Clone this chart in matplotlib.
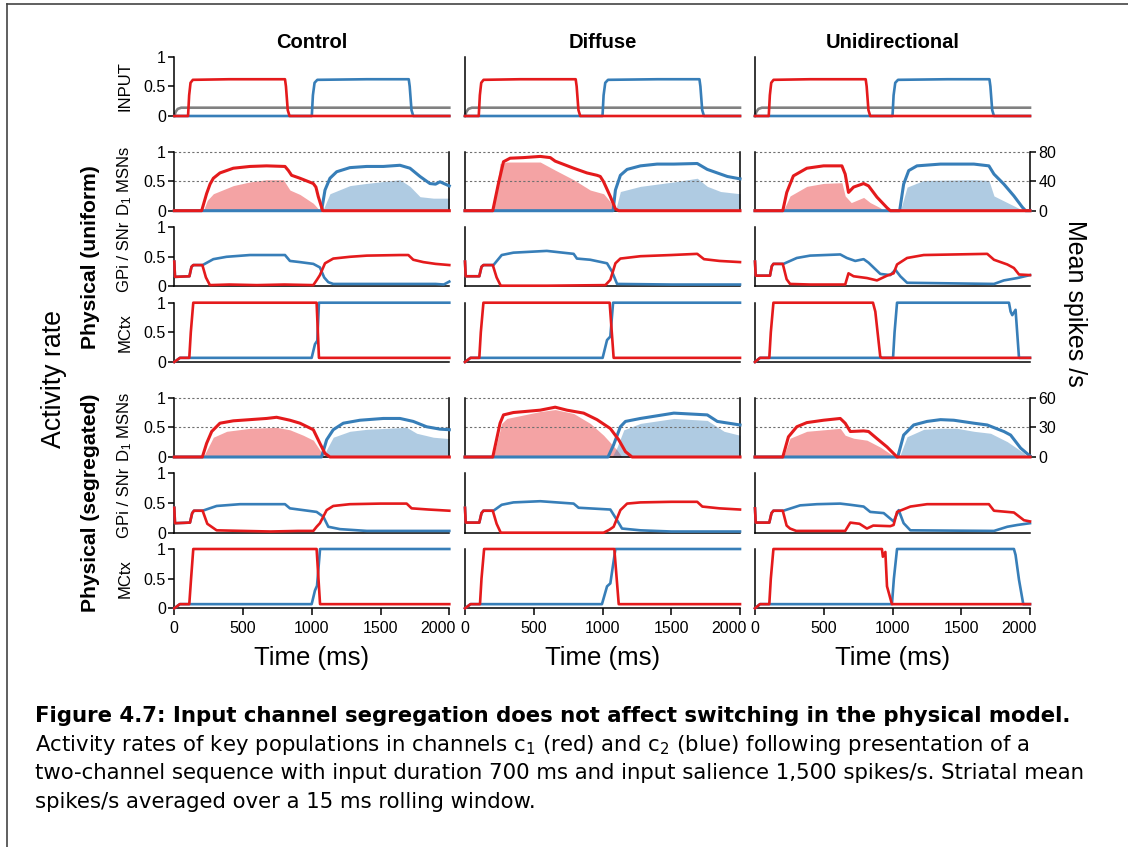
#!/usr/bin/env python3
"""Activity rates for the physical model: control / diffuse / unidirectional input."""

import numpy as np
import matplotlib
matplotlib.use("Agg")
import matplotlib.pyplot as plt
from matplotlib.lines import Line2D
from matplotlib.transforms import ScaledTranslation

# ---------------------------------------------------------------- data
# every series is a list of (time ms, value).
# line values are activity rates (0-1), fills are striatal mean spikes/s.

columns = ["Control", "Diffuse", "Unidirectional"]
row_labels = ["INPUT", "D$_1$ MSNs", "GPi / SNr", "MCtx",
              "D$_1$ MSNs", "GPi / SNr", "MCtx"]
time_ticks = [0, 500, 1000, 1500, 2000]
rate_ticks = [0, 0.5, 1]
rate_ticklabels = ["0", "0.5", "1"]
spikes_max_uniform = 80
spikes_max_segregated = 60

# input (same in all three columns)
in_gray = [(0, 0), (10, 0.07), (25, 0.12), (50, 0.14), (2000, 0.14)]
in_red = [(0, 0), (100, 0), (108, 0.35), (118, 0.56), (135, 0.61), (400, 0.62),
          (805, 0.62), (812, 0.5), (825, 0.1), (838, 0), (2000, 0)]
in_blue = [(0, 0), (1000, 0), (1008, 0.35), (1020, 0.56), (1040, 0.61), (1400, 0.62),
           (1705, 0.62), (1712, 0.5), (1725, 0.1), (1738, 0), (2000, 0)]

# ---- Control
ctrl_d1u_red = [(0, 0), (199, 0), (235, 0.29), (260, 0.45), (284, 0.55), (332, 0.64),
                (429, 0.72), (550, 0.75), (671, 0.76), (805, 0.75), (830, 0.68),
                (853, 0.60), (914, 0.55), (1011, 0.46), (1030, 0.40), (1047, 0.24),
                (1079, 0), (2000, 0)]
ctrl_d1u_blue = [(0, 0), (1071, 0), (1096, 0.35), (1132, 0.55), (1181, 0.66),
                 (1277, 0.73), (1399, 0.75), (1520, 0.75), (1641, 0.77), (1714, 0.72),
                 (1787, 0.58), (1859, 0.46), (1900, 0.45), (1932, 0.49), (2000, 0.42)]
ctrl_d1u_red_fill = [(211, 0), (240, 14), (284, 23), (429, 34), (550, 39), (671, 42),
                     (793, 42), (841, 28), (914, 22), (1011, 10), (1059, 0)]
ctrl_d1u_blue_fill = [(1079, 0), (1132, 23), (1277, 34), (1399, 37), (1641, 42),
                      (1714, 33), (1787, 19), (1884, 17), (2000, 17)]
ctrl_gpu_red = [(0, 0.42), (5, 0.16), (110, 0.17), (125, 0.33), (138, 0.36), (204, 0.36),
                (230, 0.15), (259, 0.02), (400, 0.03), (600, 0.02), (800, 0.03),
                (1011, 0.02), (1040, 0.12), (1059, 0.19), (1096, 0.39), (1156, 0.47),
                (1277, 0.50), (1400, 0.52), (1641, 0.53), (1702, 0.53), (1738, 0.45),
                (1811, 0.41), (1900, 0.38), (2000, 0.36)]
ctrl_gpu_blue = [(0, 0.42), (5, 0.16), (110, 0.17), (125, 0.33), (138, 0.36), (206, 0.36),
                 (284, 0.46), (380, 0.50), (550, 0.53), (805, 0.53), (841, 0.43),
                 (914, 0.41), (1011, 0.38), (1059, 0.32), (1090, 0.15), (1120, 0.07),
                 (1156, 0.04), (1500, 0.04), (1900, 0.04), (1960, 0.03), (2000, 0.08)]
ctrl_mcu_red = [(0, 0), (41, 0.07), (109, 0.07), (120, 0.5), (138, 1), (1035, 1),
                (1052, 0.07), (2000, 0.07)]
ctrl_mcu_blue = [(0, 0), (41, 0.07), (999, 0.07), (1023, 0.3), (1040, 0.36), (1052, 1),
                 (2000, 1)]
ctrl_d1s_red = [(0, 0), (204, 0), (235, 0.23), (272, 0.43), (332, 0.57), (429, 0.61),
                (550, 0.63), (671, 0.65), (744, 0.67), (841, 0.62), (914, 0.57),
                (1011, 0.46), (1059, 0.23), (1096, 0.06), (1132, 0), (2000, 0)]
ctrl_d1s_blue = [(0, 0), (1071, 0), (1108, 0.29), (1156, 0.46), (1229, 0.57),
                 (1350, 0.62), (1520, 0.65), (1641, 0.65), (1738, 0.60), (1835, 0.51),
                 (1932, 0.47), (2000, 0.46)]
ctrl_d1s_red_fill = [(211, 0), (284, 20), (381, 26), (550, 29), (744, 30), (841, 27.5),
                     (938, 22), (1011, 17), (1059, 7), (1096, 0)]
ctrl_d1s_blue_fill = [(1079, 0), (1156, 20), (1277, 26), (1399, 28), (1690, 30),
                      (1763, 24), (1884, 20), (2000, 18.6)]
ctrl_gps_red = [(0, 0.42), (5, 0.16), (114, 0.17), (130, 0.33), (143, 0.37), (206, 0.37),
                (240, 0.15), (308, 0.04), (500, 0.03), (700, 0.02), (900, 0.03),
                (1011, 0.03), (1035, 0.10), (1059, 0.16), (1108, 0.38), (1156, 0.45),
                (1277, 0.48), (1500, 0.49), (1690, 0.49), (1726, 0.41), (1850, 0.39),
                (2000, 0.37)]
ctrl_gps_blue = [(0, 0.42), (5, 0.16), (114, 0.17), (130, 0.33), (143, 0.37), (206, 0.37),
                 (308, 0.45), (478, 0.48), (805, 0.48), (841, 0.41), (1035, 0.35),
                 (1084, 0.27), (1120, 0.10), (1205, 0.06), (1400, 0.03), (2000, 0.03)]
ctrl_mcs_red = [(0, 0), (40, 0.07), (109, 0.07), (122, 0.5), (138, 1), (1035, 1),
                (1060, 0.07), (2000, 0.07)]
ctrl_mcs_blue = [(0, 0), (40, 0.07), (999, 0.07), (1023, 0.3), (1038, 0.38), (1060, 1),
                 (2000, 1)]

# ---- Diffuse
diff_d1u_red = [(0, 0), (202, 0), (243, 0.46), (280, 0.83), (328, 0.89), (425, 0.90),
                (547, 0.92), (620, 0.90), (656, 0.84), (790, 0.72), (887, 0.64),
                (960, 0.60), (984, 0.58), (1008, 0.49), (1057, 0.24), (1094, 0.03),
                (1118, 0), (2000, 0)]
diff_d1u_blue = [(0, 0), (1077, 0), (1094, 0.35), (1130, 0.60), (1179, 0.70),
                 (1276, 0.76), (1397, 0.79), (1519, 0.79), (1689, 0.80), (1762, 0.70),
                 (1835, 0.64), (1908, 0.58), (2000, 0.54)]
diff_d1u_red_fill = [(206, 0), (255, 64), (304, 66), (547, 66), (656, 55), (790, 42),
                     (911, 28), (1008, 23), (1057, 12), (1094, 0)]
diff_d1u_blue_fill = [(1094, 0), (1130, 26), (1276, 33), (1519, 39), (1689, 44),
                      (1762, 33), (1859, 26), (2000, 23)]
diff_gpu_red = [(0, 0.42), (5, 0.17), (104, 0.17), (120, 0.33), (134, 0.36), (202, 0.36),
                (230, 0.15), (260, 0.01), (600, 0.01), (1021, 0.02), (1057, 0.11),
                (1094, 0.39), (1130, 0.47), (1276, 0.51), (1500, 0.53), (1689, 0.55),
                (1738, 0.46), (1850, 0.43), (2000, 0.41)]
diff_gpu_blue = [(0, 0.42), (5, 0.17), (104, 0.17), (120, 0.33), (134, 0.36), (207, 0.36),
                 (267, 0.53), (352, 0.57), (595, 0.60), (790, 0.55), (814, 0.47),
                 (911, 0.45), (1033, 0.39), (1069, 0.25), (1106, 0.04), (1500, 0.03),
                 (2000, 0.03)]
diff_mcu_red = [(0, 0), (40, 0.07), (104, 0.07), (115, 0.5), (134, 1), (1052, 1),
                (1081, 0.07), (2000, 0.07)]
diff_mcu_blue = [(0, 0), (40, 0.07), (1001, 0.07), (1033, 0.37), (1057, 0.43), (1077, 1),
                 (2000, 1)]
diff_d1s_red = [(0, 0), (202, 0), (255, 0.57), (280, 0.71), (352, 0.75), (547, 0.79),
                (656, 0.84), (741, 0.79), (863, 0.74), (960, 0.63), (1057, 0.48),
                (1118, 0.29), (1167, 0.09), (1215, 0), (2000, 0)]
diff_d1s_blue = [(0, 0), (1040, 0), (1080, 0.2), (1130, 0.51), (1167, 0.60), (1276, 0.65),
                 (1519, 0.74), (1762, 0.71), (1835, 0.60), (2000, 0.54)]
diff_d1s_red_fill = [(206, 0), (267, 34), (304, 39), (547, 46), (656, 48), (790, 44),
                     (911, 34), (1008, 22), (1106, 7), (1142, 0)]
diff_d1s_blue_fill = [(1070, 0), (1106, 10), (1155, 27.5), (1276, 34), (1519, 39),
                      (1762, 37), (1884, 26), (2000, 22)]
diff_gps_red = [(0, 0.42), (5, 0.17), (104, 0.17), (120, 0.33), (134, 0.37), (202, 0.37),
                (230, 0.15), (260, 0), (1008, 0), (1050, 0.05), (1081, 0.10),
                (1130, 0.38), (1179, 0.49), (1276, 0.51), (1500, 0.52), (1689, 0.52),
                (1726, 0.44), (1850, 0.41), (2000, 0.39)]
diff_gps_blue = [(0, 0.42), (5, 0.17), (104, 0.17), (120, 0.33), (134, 0.37), (207, 0.37),
                 (267, 0.47), (352, 0.51), (547, 0.53), (790, 0.49), (826, 0.42),
                 (1057, 0.39), (1106, 0.21), (1142, 0.07), (1276, 0.04), (1500, 0.02),
                 (2000, 0.02)]
diff_mcs_red = [(0, 0), (40, 0.07), (109, 0.07), (120, 0.5), (139, 1), (1086, 1),
                (1118, 0.07), (2000, 0.07)]
diff_mcs_blue = [(0, 0), (40, 0.07), (996, 0.07), (1033, 0.37), (1057, 0.42), (1094, 1),
                 (2000, 1)]

# ---- Unidirectional
uni_d1u_red = [(0, 0), (202, 0), (231, 0.31), (279, 0.59), (377, 0.72), (498, 0.76),
               (632, 0.76), (656, 0.62), (680, 0.31), (717, 0.40), (790, 0.46),
               (826, 0.42), (887, 0.23), (960, 0.05), (984, 0), (2000, 0)]
uni_d1u_blue = [(0, 0), (1052, 0), (1081, 0.45), (1118, 0.68), (1178, 0.76), (1349, 0.79),
                (1592, 0.79), (1701, 0.76), (1738, 0.62), (1810, 0.45), (1883, 0.25),
                (1944, 0.06), (1968, 0), (2000, 0)]
uni_d1u_red_fill = [(206, 0), (255, 20), (377, 33), (498, 37), (632, 38), (656, 20),
                    (700, 11), (790, 18), (838, 11), (911, 4), (935, 0)]
uni_d1u_blue_fill = [(1057, 0), (1106, 32), (1227, 41), (1592, 42), (1701, 41),
                     (1738, 20), (1835, 11), (1932, 2), (1956, 0)]
uni_gpu_red = [(0, 0.42), (5, 0.18), (109, 0.18), (122, 0.34), (134, 0.38), (202, 0.38),
               (230, 0.12), (255, 0.04), (400, 0.03), (656, 0.03), (680, 0.22),
               (717, 0.17), (814, 0.14), (887, 0.10), (960, 0.18), (1008, 0.22),
               (1033, 0.37), (1106, 0.48), (1227, 0.53), (1689, 0.55), (1738, 0.45),
               (1835, 0.37), (1883, 0.31), (1920, 0.20), (2000, 0.19)]
uni_gpu_blue = [(0, 0.42), (5, 0.18), (109, 0.18), (122, 0.34), (134, 0.38), (207, 0.38),
                (304, 0.48), (401, 0.52), (620, 0.54), (668, 0.48), (729, 0.43),
                (790, 0.46), (826, 0.40), (911, 0.21), (984, 0.19), (1021, 0.28),
                (1057, 0.17), (1106, 0.06), (1738, 0.04), (1810, 0.10), (1908, 0.14),
                (2000, 0.19)]
uni_mcu_red = [(0, 0), (36, 0.07), (104, 0.07), (115, 0.5), (134, 1), (858, 1),
               (875, 0.85), (911, 0.09), (923, 0.07), (2000, 0.07)]
uni_mcu_blue = [(0, 0), (36, 0.07), (1004, 0.07), (1015, 0.5), (1033, 1), (1847, 1),
                (1859, 0.85), (1871, 0.79), (1895, 0.88), (1920, 0.07), (2000, 0.07)]
uni_d1s_red = [(0, 0), (202, 0), (243, 0.34), (304, 0.51), (377, 0.58), (498, 0.62),
               (620, 0.65), (656, 0.57), (693, 0.43), (790, 0.44), (826, 0.43),
               (887, 0.31), (960, 0.17), (1033, 0), (2000, 0)]
uni_d1s_blue = [(0, 0), (1038, 0), (1081, 0.37), (1154, 0.54), (1251, 0.60), (1349, 0.63),
                (1446, 0.62), (1592, 0.57), (1689, 0.54), (1810, 0.43), (1859, 0.37),
                (1932, 0.15), (1993, 0.03), (2000, 0.02)]
uni_d1s_red_fill = [(206, 0), (255, 19), (377, 26), (620, 29), (656, 22), (717, 19),
                    (814, 17), (911, 10), (1008, 1), (1021, 0)]
uni_d1s_blue_fill = [(1050, 0), (1106, 20.5), (1227, 28), (1349, 29), (1470, 29),
                     (1592, 26), (1713, 24), (1835, 15.5), (1956, 4), (1980, 0)]
uni_gps_red = [(0, 0.41), (5, 0.17), (104, 0.17), (120, 0.33), (134, 0.37), (202, 0.37),
               (230, 0.12), (255, 0.07), (300, 0.03), (656, 0.03), (693, 0.17),
               (760, 0.15), (814, 0.07), (860, 0.12), (984, 0.11), (1008, 0.13),
               (1033, 0.35), (1130, 0.44), (1251, 0.48), (1701, 0.48), (1738, 0.37),
               (1883, 0.34), (1956, 0.21), (2000, 0.19)]
uni_gps_blue = [(0, 0.41), (5, 0.17), (104, 0.17), (120, 0.33), (134, 0.37), (207, 0.37),
                (328, 0.46), (450, 0.48), (620, 0.49), (693, 0.47), (790, 0.44),
                (838, 0.35), (936, 0.33), (1008, 0.19), (1045, 0.38), (1081, 0.16),
                (1130, 0.04), (1738, 0.03), (1835, 0.10), (1908, 0.13), (2000, 0.16)]
uni_mcs_red = [(0, 0), (36, 0.07), (104, 0.07), (115, 0.5), (134, 1), (923, 1),
               (930, 0.87), (948, 0.95), (960, 0.37), (996, 0.07), (2000, 0.07)]
uni_mcs_blue = [(0, 0), (36, 0.07), (996, 0.07), (1010, 0.5), (1033, 1), (1883, 1),
                (1895, 0.9), (1920, 0.48), (1951, 0.07), (2000, 0.07)]

caption_lines = [
    "Figure 4.7: Input channel segregation does not affect switching in the physical model.",
    "Activity rates of key populations in channels c$_1$ (red) and c$_2$ (blue) following presentation of a",
    "two-channel sequence with input duration 700 ms and input salience 1,500 spikes/s. Striatal mean",
    "spikes/s averaged over a 15 ms rolling window.",
]

RED = "#e41a1c"
BLUE = "#377eb8"
GRAY = "#808080"

W, H = 1128, 847
COL_LEFT = [174.3, 465.0, 755.0]       # px
COL_WIDTH = 275.0
ROW_SPAN = [(56.7, 116.0), (151.7, 210.7), (227.3, 286.3), (302.7, 362.0),
            (397.7, 457.0), (473.3, 532.7), (549.0, 608.3)]


def xy(points):
    arr = np.array(points, dtype=float)
    return arr[:, 0], arr[:, 1]


def main():
    plt.rcParams["font.family"] = ["Liberation Sans", "DejaVu Sans"]
    plt.rcParams["mathtext.default"] = "regular"

    panels = [
        [(in_gray, in_red, in_blue),
         (ctrl_d1u_red, ctrl_d1u_blue, ctrl_d1u_red_fill, ctrl_d1u_blue_fill),
         (ctrl_gpu_red, ctrl_gpu_blue), (ctrl_mcu_red, ctrl_mcu_blue),
         (ctrl_d1s_red, ctrl_d1s_blue, ctrl_d1s_red_fill, ctrl_d1s_blue_fill),
         (ctrl_gps_red, ctrl_gps_blue), (ctrl_mcs_red, ctrl_mcs_blue)],
        [(in_gray, in_red, in_blue),
         (diff_d1u_red, diff_d1u_blue, diff_d1u_red_fill, diff_d1u_blue_fill),
         (diff_gpu_red, diff_gpu_blue), (diff_mcu_red, diff_mcu_blue),
         (diff_d1s_red, diff_d1s_blue, diff_d1s_red_fill, diff_d1s_blue_fill),
         (diff_gps_red, diff_gps_blue), (diff_mcs_red, diff_mcs_blue)],
        [(in_gray, in_red, in_blue),
         (uni_d1u_red, uni_d1u_blue, uni_d1u_red_fill, uni_d1u_blue_fill),
         (uni_gpu_red, uni_gpu_blue), (uni_mcu_red, uni_mcu_blue),
         (uni_d1s_red, uni_d1s_blue, uni_d1s_red_fill, uni_d1s_blue_fill),
         (uni_gps_red, uni_gps_blue), (uni_mcs_red, uni_mcs_blue)],
    ]

    fig = plt.figure(figsize=(W / 100, H / 100), dpi=100)
    lw = 1.9
    # last time label sits a bit left of its tick, as in the original
    shift_left = ScaledTranslation(-11 / 100, 0, fig.dpi_scale_trans)

    for c in range(3):
        for r in range(7):
            top, bot = ROW_SPAN[r]
            ax = fig.add_axes([COL_LEFT[c] / W, 1 - bot / H, COL_WIDTH / W, (bot - top) / H])
            ax.set_xlim(0, 2000)
            ax.set_ylim(0, 1)
            for s in ["top", "right"]:
                ax.spines[s].set_visible(False)
            for s in ["left", "bottom"]:
                ax.spines[s].set_linewidth(1.1)

            data = panels[c][r]
            if r == 0:
                gray, red, blue = data
                ax.plot(*xy(gray), color=GRAY, lw=lw, zorder=2, clip_on=False)
                ax.plot(*xy(blue), color=BLUE, lw=lw, zorder=3, clip_on=False)
                ax.plot(*xy(red), color=RED, lw=lw, zorder=4, clip_on=False)
            elif r in (1, 4):
                red, blue, red_fill, blue_fill = data
                top_val = spikes_max_uniform if r == 1 else spikes_max_segregated
                tw = ax.twinx()
                tw.set_ylim(0, top_val)
                tw.fill_between(*xy(red_fill), color=RED, alpha=0.4, lw=0)
                tw.fill_between(*xy(blue_fill), color=BLUE, alpha=0.4, lw=0)
                for s in ["top", "left", "bottom"]:
                    tw.spines[s].set_visible(False)
                tw.spines["right"].set_linewidth(1.1)
                if c == 2:
                    tw.set_yticks([0, top_val / 2, top_val])
                    tw.set_yticklabels(["0", str(top_val // 2), str(top_val)])
                    tw.tick_params(axis="y", length=4, width=1.1, labelsize=11.5, pad=2)
                else:
                    tw.set_yticks([])
                ax.set_zorder(tw.get_zorder() + 1)
                ax.patch.set_visible(False)
                for yv in (0.5, 1.0):
                    ax.axhline(yv, color="#707070", lw=0.8, ls=(0, (2, 2)), zorder=1,
                               clip_on=False)
                ax.plot(*xy(blue), color=BLUE, lw=lw + 0.3, zorder=3, clip_on=False)
                ax.plot(*xy(red), color=RED, lw=lw + 0.3, zorder=4, clip_on=False)
            else:
                red, blue = data
                ax.plot(*xy(blue), color=BLUE, lw=lw, zorder=3, clip_on=False)
                ax.plot(*xy(red), color=RED, lw=lw, zorder=4, clip_on=False)

            if c == 0:
                ax.set_yticks(rate_ticks)
                ax.set_yticklabels(rate_ticklabels)
                ax.tick_params(axis="y", length=4, width=1.1, labelsize=11.5, pad=2)
                fig.text(125 / W, 1 - (top + bot) / 2 / H, row_labels[r], rotation=90,
                         ha="center", va="center", fontsize=12)
            else:
                ax.set_yticks([])
            if r == 6:
                ax.set_xticks(time_ticks)
                ax.set_xticklabels([str(t) for t in time_ticks])
                ax.tick_params(axis="x", length=5, width=1.1, labelsize=11.5, pad=4)
                last = ax.get_xticklabels()[-1]
                last.set_transform(last.get_transform() + shift_left)
            else:
                ax.set_xticks([])

        cx = (COL_LEFT[c] + COL_WIDTH / 2) / W
        fig.text(cx, 1 - 43 / H, columns[c], ha="center", va="center",
                 fontsize=14.5, fontweight="bold")
        fig.text(cx, 1 - 658 / H, "Time (ms)", ha="center", va="center", fontsize=18.5)

    fig.text(90 / W, 1 - 257 / H, "Physical (uniform)", rotation=90, ha="center",
             va="center", fontsize=15.2, fontweight="bold")
    fig.text(90 / W, 1 - 503 / H, "Physical (segregated)", rotation=90, ha="center",
             va="center", fontsize=15.2, fontweight="bold")
    fig.text(54 / W, 1 - 379 / H, "Activity rate", rotation=90, ha="center",
             va="center", fontsize=19.3)
    fig.text(1075 / W, 1 - 303 / H, "Mean spikes /s", rotation=-90, ha="center",
             va="center", fontsize=18)

    # caption
    cap_y = [716, 745, 773, 802]
    for i, line in enumerate(caption_lines):
        fig.text(35 / W, 1 - cap_y[i] / H, line, ha="left", va="center",
                 fontsize=15.3, family=["DejaVu Sans"],
                 fontweight="bold" if i == 0 else "normal")

    # page frame
    fig.add_artist(Line2D([7 / W, 7 / W], [0, 1 - 4 / H], transform=fig.transFigure,
                          color="#444444", lw=1.2))
    fig.add_artist(Line2D([7 / W, 1], [1 - 4 / H, 1 - 4 / H], transform=fig.transFigure,
                          color="#444444", lw=1.2))

    fig.savefig("out.png", dpi=100)


if __name__ == "__main__":
    main()
